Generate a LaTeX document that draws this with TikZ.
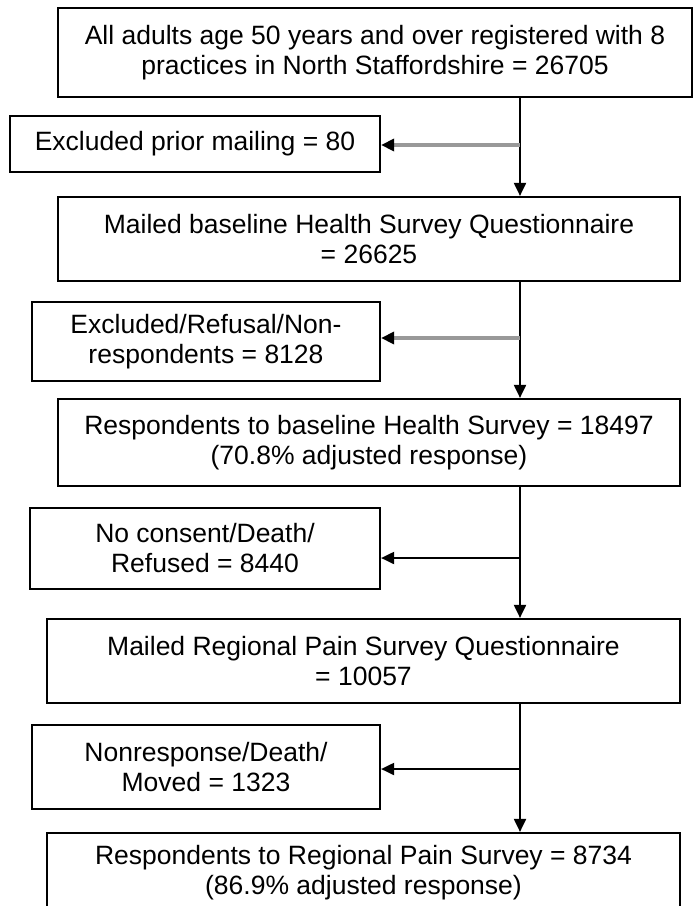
\documentclass[tikz,border=0pt]{standalone}
\usepackage{fontspec}
\setmainfont{Liberation Sans}
\usetikzlibrary{arrows.meta, positioning}

\tikzset{
	stagebox/.style={draw, line width=2.2pt, align=center, inner sep=0pt, font=\fontsize{26.5}{30}\selectfont},
	flow/.style={line width=2pt, -{Triangle[length=13pt,width=12pt]}},
	grayflow/.style={draw=black!40, line width=3.5pt, -{Triangle[length=13pt,width=12pt,color=black]}}
}

\begin{document}
\begin{tikzpicture}[x=1pt,y=-1pt]
			\clip (0,0) rectangle (693,906);
			\node[stagebox, minimum width=634pt, minimum height=89pt] (b1) at (375,52.5) {All adults age 50 years and over registered with 8\\practices in North Staffordshire = 26705};
			\node[stagebox, minimum width=622pt, minimum height=84pt] (b2) at (369,239) {Mailed baseline Health Survey Questionnaire\\= 26625};
			\node[stagebox, minimum width=622pt, minimum height=87pt] (b3) at (369,442.5) {Respondents to baseline Health Survey = 18497\\(70.8\% adjusted response)};
			\node[stagebox, minimum width=633pt, minimum height=84pt] (b4) at (363.5,661) {Mailed Regional Pain Survey Questionnaire\\= 10057};
			\node[stagebox, minimum width=633pt, minimum height=80pt] (b5) at (363.5,873) {Respondents to Regional Pain Survey = 8734\\(86.9\% adjusted response)};
			\node[stagebox, minimum width=370pt, minimum height=56pt] (e1) at (195,144) {Excluded prior mailing = 80};
			\node[stagebox, minimum width=348pt, minimum height=79pt] (e2) at (206,341.5) {Excluded/Refusal/Non-\\respondents = 8128};
			\node[stagebox, minimum width=350pt, minimum height=81pt] (e3) at (205,548.5) {No consent/Death/\\Refused = 8440};
			\node[stagebox, minimum width=348pt, minimum height=84pt] (e4) at (206,767) {Nonresponse/Death/\\Moved = 1323};
			\coordinate (j1) at (520,145);
			\coordinate (j2) at (520,338);
			\coordinate (j3) at (520,558);
			\coordinate (j4) at (520,769);
			\draw[flow] (b1.south -| j1) -- (b2.north -| j1);
			\draw[flow] (b2.south -| j2) -- (b3.north -| j2);
			\draw[flow] (b3.south -| j3) -- (b4.north -| j3);
			\draw[flow] (b4.south -| j4) -- (b5.north -| j4);
			\draw[grayflow] (j1) -- (j1 -| e1.east);
			\draw[grayflow] (j2) -- (j2 -| e2.east);
			\draw[flow] (j3) -- (j3 -| e3.east);
			\draw[flow] (j4) -- (j4 -| e4.east);
		\end{tikzpicture}
\end{document}
